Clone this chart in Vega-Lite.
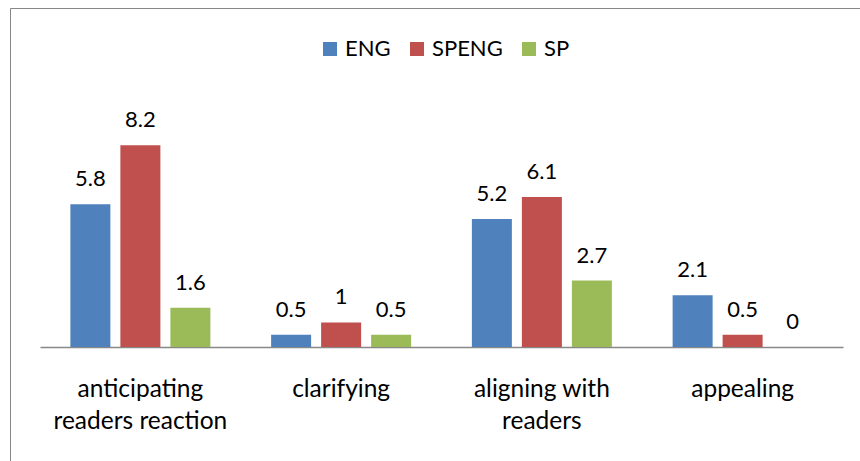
{
  "$schema": "https://vega.github.io/schema/vega-lite/v6.json",
  "width": 850,
  "height": 453,
  "autosize": {"type": "none"},
  "padding": {"left": 10, "top": 8, "right": 0, "bottom": 0},
  "config": {"view": {"stroke": "#878787", "strokeWidth": 1, "strokeDash": [850, 1303, 453]}, "font": "Lato"},
  "data": {
    "values": [
      {"category": "anticipating readers reaction", "series": "ENG", "value": 5.8},
      {"category": "anticipating readers reaction", "series": "SPENG", "value": 8.2},
      {"category": "anticipating readers reaction", "series": "SP", "value": 1.6},
      {"category": "clarifying", "series": "ENG", "value": 0.5},
      {"category": "clarifying", "series": "SPENG", "value": 1},
      {"category": "clarifying", "series": "SP", "value": 0.5},
      {"category": "aligning with readers", "series": "ENG", "value": 5.2},
      {"category": "aligning with readers", "series": "SPENG", "value": 6.1},
      {"category": "aligning with readers", "series": "SP", "value": 2.7},
      {"category": "appealing", "series": "ENG", "value": 2.1},
      {"category": "appealing", "series": "SPENG", "value": 0.5},
      {"category": "appealing", "series": "SP", "value": 0}
    ]
  },
  "encoding": {
    "x": {
      "field": "category",
      "type": "nominal",
      "sort": ["anticipating readers reaction", "clarifying", "aligning with readers", "appealing"],
      "scale": {"range": [30, 833], "paddingInner": 0.3026, "paddingOuter": 0.1513},
      "axis": {
        "orient": "bottom",
        "offset": -114,
        "title": null,
        "domainColor": "#888888",
        "domainWidth": 1.5,
        "ticks": false,
        "labelAngle": 0,
        "labelFontSize": 24.5,
        "labelColor": "#000000",
        "labelPadding": 30,
        "labelLineHeight": 32,
        "labelLimit": 0,
        "labelBaseline": "top",
        "labelExpr": "datum.value == 'anticipating readers reaction' ? ['anticipating', 'readers reaction'] : datum.value == 'aligning with readers' ? ['aligning with', 'readers'] : datum.value"
      }
    },
    "xOffset": {
      "field": "series",
      "sort": ["ENG", "SPENG", "SP"],
      "scale": {"paddingInner": 0.2, "paddingOuter": 0}
    },
    "y": {
      "field": "value",
      "type": "quantitative",
      "scale": {"domain": [0, 10], "range": [339, 93]},
      "axis": null
    }
  },
  "layer": [
    {
      "mark": {"type": "bar"},
      "encoding": {
        "color": {
          "field": "series",
          "type": "nominal",
          "sort": ["ENG", "SPENG", "SP"],
          "scale": {"domain": ["ENG", "SPENG", "SP"], "range": ["#4F81BD", "#C0504D", "#9BBB59"]},
          "legend": {
            "orient": "none",
            "legendX": 309,
            "legendY": 30,
            "direction": "horizontal",
            "title": null,
            "symbolType": "square",
            "symbolSize": 196,
            "symbolStrokeWidth": 0,
            "labelFontSize": 22,
            "labelColor": "#000000",
            "columnPadding": 15,
            "labelOffset": 4,
            "padding": 0
          }
        }
      }
    },
    {
      "mark": {"type": "text", "dy": -18, "baseline": "alphabetic", "fontSize": 22, "color": "#000000"},
      "encoding": {"text": {"field": "value", "type": "quantitative"}}
    }
  ]
}
